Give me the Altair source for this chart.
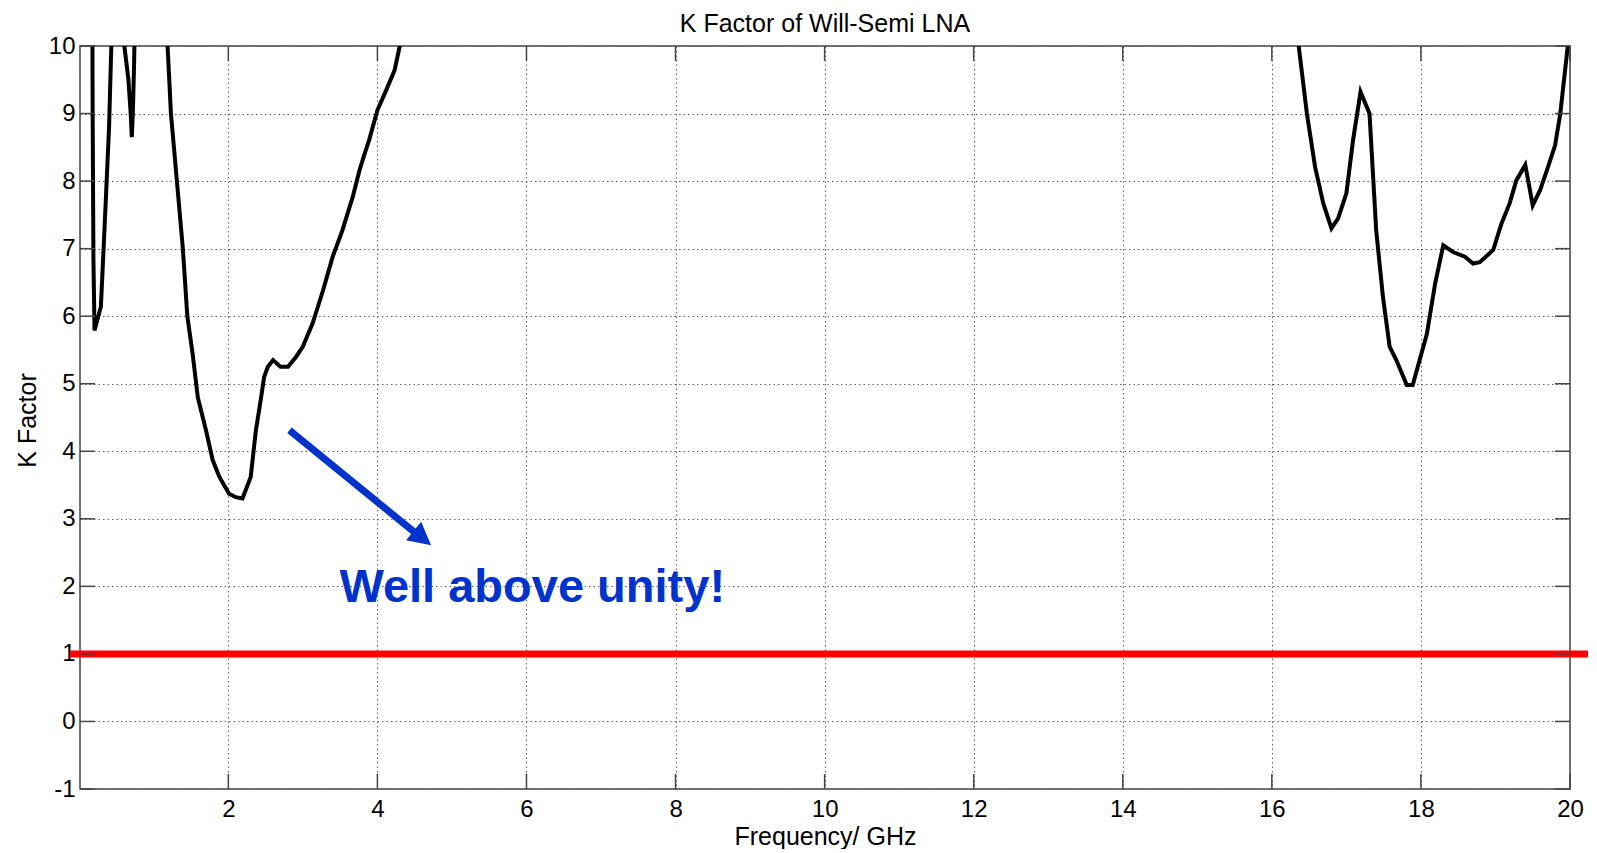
import altair as alt
import pandas as pd

# ---- data ----
freq = [0.12, 0.175, 0.18, 0.19, 0.205, 0.29, 0.34, 0.38, 0.40, 0.43, 0.46, 0.52, 0.58,
        0.605, 0.66, 0.69, 0.705, 0.72, 0.735, 0.75, 0.85, 1.0, 1.12,
        1.185, 1.23, 1.31, 1.39, 1.45, 1.52, 1.59, 1.70, 1.79, 1.88, 2.01, 2.10, 2.19,
        2.30, 2.37, 2.44, 2.48, 2.53, 2.60, 2.70, 2.80, 2.91, 3.00, 3.13, 3.27, 3.40,
        3.53, 3.67, 3.76, 3.83, 3.89, 4.00, 4.12, 4.23, 4.30, 4.45,
        6.0, 10.0, 14.0, 16.2,
        16.36, 16.47, 16.58, 16.69, 16.80, 16.89, 17.00, 17.09, 17.19, 17.31, 17.40,
        17.49, 17.58, 17.67, 17.81, 17.89, 18.08, 18.19, 18.30, 18.43, 18.59, 18.70,
        18.79, 18.97, 19.08, 19.19, 19.28, 19.40, 19.50, 19.60, 19.69, 19.80, 19.87,
        19.93, 19.97, 20.0]
kfac = [30.0, 10.5, 8.95, 6.85, 5.79, 6.14, 7.32, 8.31, 8.8, 10.0, 11.5, 14.0, 11.0,
        10.0, 9.5, 9.0, 8.65, 9.05, 9.7, 10.6, 14.0, 16.0, 12.0,
        10.0, 9.0, 8.0, 7.0, 6.0, 5.45, 4.80, 4.31, 3.87, 3.62, 3.37, 3.32, 3.30,
        3.62, 4.31, 4.80, 5.10, 5.25, 5.35, 5.25, 5.25, 5.40, 5.55, 5.89, 6.38, 6.88,
        7.27, 7.77, 8.16, 8.41, 8.61, 9.05, 9.35, 9.64, 10.0, 10.6,
        18.0, 25.0, 18.0, 11.0,
        10.0, 9.0, 8.21, 7.67, 7.30, 7.45, 7.82, 8.61, 9.32, 9.0, 7.27,
        6.29, 5.55, 5.35, 4.98, 4.98, 5.74, 6.48, 7.05, 6.95, 6.88, 6.78,
        6.80, 6.98, 7.37, 7.67, 8.01, 8.24, 7.64, 7.87, 8.16, 8.53, 9.0,
        9.6, 10.0, 10.4]

x_ticks = [2, 4, 6, 8, 10, 12, 14, 16, 18, 20]
y_ticks = [-1, 0, 1, 2, 3, 4, 5, 6, 7, 8, 9, 10]

unity = [1]
arrow_x1 = [2.82]
arrow_y1 = [4.31]
arrow_x2 = [4.51]
arrow_y2 = [2.79]
head_x = [4.72]
head_y = [2.61]
note_text = ["Well above unity!"]
note_x = [3.49]
note_y = [1.77]

title_text = "K Factor of Will-Semi LNA"
x_title = "Frequency/ GHz"
y_title = "K Factor"

# ---- layout ----
W, H = 1490, 743
FONT = "Liberation Sans"
BLUE = "#0033cc"
BOX = "#444444"
TICK = 15

xs = alt.Scale(domain=[0.01, 20], nice=False, zero=False)
ys = alt.Scale(domain=[-1, 10], nice=False, zero=False)

x_axis = alt.Axis(values=x_ticks, grid=True, gridDash=[1.5, 3], gridColor="#666666",
                  gridWidth=1, ticks=False, domain=False, labelFontSize=24,
                  labelFont=FONT, labelColor="black", labelPadding=8,
                  labelFlush=False, labelOverlap=False,
                  labelExpr="'' + datum.value",
                  title=x_title, titleFont=FONT, titleFontSize=25,
                  titleFontWeight="normal", titleColor="black",
                  titleBaseline="alphabetic", titleY=55)
y_axis = alt.Axis(values=y_ticks, grid=True, gridDash=[1.5, 3], gridColor="#666666",
                  gridWidth=1, ticks=False, domain=False, labelFontSize=24,
                  labelFont=FONT, labelColor="black", labelPadding=5,
                  labelOverlap=False, labelExpr="'' + datum.value",
                  title=y_title, titleFont=FONT, titleFontSize=25,
                  titleFontWeight="normal", titleColor="black", titleAngle=270,
                  titleBaseline="alphabetic", titleAlign="center",
                  titleX=-45, titleY=374)


def X(field):
    return alt.X(field, scale=xs, axis=x_axis, title=x_title)


def Y(field):
    return alt.Y(field, scale=ys, axis=y_axis, title=y_title)


df = pd.DataFrame({"f": freq, "k": kfac})
line = alt.Chart(df).mark_line(color="black", strokeWidth=4, clip=True).encode(
    x=X("f:Q"),
    y=Y("k:Q"),
)

red = alt.Chart(pd.DataFrame({"k": unity})).mark_rule(color="#ff0000", strokeWidth=7).encode(
    y=Y("k:Q"),
    x=alt.value(-10),
    x2=alt.value(W + 21),
)

arrow_df = pd.DataFrame({"x1": arrow_x1, "y1": arrow_y1, "x2": arrow_x2, "y2": arrow_y2})
shaft = alt.Chart(arrow_df).mark_rule(color=BLUE, strokeWidth=7).encode(
    x=X("x1:Q"),
    y=Y("y1:Q"),
    x2="x2:Q",
    y2="y2:Q",
)
head = alt.Chart(pd.DataFrame({"x": head_x, "y": head_y})).mark_point(
    shape="M0,0L-0.8,1.5L0.8,1.5Z", size=900, angle=129, filled=True,
    color=BLUE, opacity=1, strokeWidth=0,
).encode(
    x=X("x:Q"),
    y=Y("y:Q"),
)
note = alt.Chart(pd.DataFrame({"x": note_x, "y": note_y, "t": note_text})).mark_text(
    align="left", baseline="alphabetic", font=FONT, fontSize=47,
    fontWeight="bold", color=BLUE,
).encode(
    x=X("x:Q"),
    y=Y("y:Q"),
    text="t:N",
)

xt = pd.DataFrame({"v": x_ticks})
yt = pd.DataFrame({"v": y_ticks})
tick_style = dict(color=BOX, strokeWidth=1.5)
t_bottom = alt.Chart(xt).mark_rule(**tick_style).encode(
    x=X("v:Q"), y=alt.value(H), y2=alt.value(H - TICK))
t_top = alt.Chart(xt).mark_rule(**tick_style).encode(
    x=X("v:Q"), y=alt.value(0), y2=alt.value(TICK))
t_left = alt.Chart(yt).mark_rule(**tick_style).encode(
    y=Y("v:Q"), x=alt.value(0), x2=alt.value(TICK))
t_right = alt.Chart(yt).mark_rule(**tick_style).encode(
    y=Y("v:Q"), x=alt.value(W - TICK), x2=alt.value(W))

chart = alt.layer(line, red, shaft, head, note, t_bottom, t_top, t_left, t_right).properties(
    width=W,
    height=H,
    padding={"left": 72, "top": 38, "right": 18, "bottom": 60},
    autosize=alt.AutoSizeParams(type="none"),
    title=alt.TitleParams(text=title_text, font=FONT, fontSize=25, fontWeight="normal",
                          color="black", anchor="middle", offset=7, dy=10),
).configure_view(stroke=BOX, strokeWidth=1.5)

chart.save("out.html", embed_options={"renderer": "svg", "actions": False})
